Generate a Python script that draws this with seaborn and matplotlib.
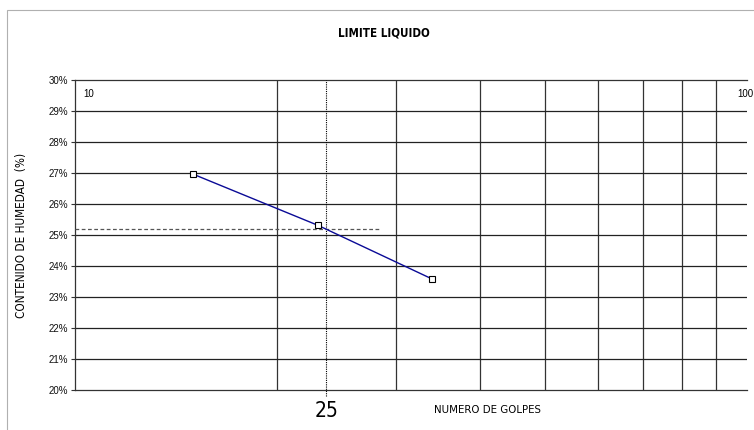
import matplotlib
matplotlib.use("Agg")
import matplotlib.pyplot as plt
import seaborn as sns
import pandas as pd
from matplotlib.patches import Rectangle

# data
golpes = [15.0, 23.0, 34.0]
humedad = [26.96, 25.31, 23.58]
limite_liquido = 25.18
dashed_end = 28.3
golpes_ref = 23.6
y_ticks = [20, 21, 22, 23, 24, 25, 26, 27, 28, 29, 30]
x_grid = [20, 30, 40, 50, 60, 70, 80, 90]

sns.set_theme(style="white")
narrow = ['Liberation Sans Narrow', 'DejaVu Sans']
regular = ['Liberation Sans', 'DejaVu Sans']
plt.rcParams['font.family'] = regular
plt.rcParams['text.color'] = 'black'
plt.rcParams['ytick.color'] = 'black'

fig = plt.figure(figsize=(7.54, 4.30), dpi=100)
ax = fig.add_axes([75/754, 1-390/430, 672/754, 310/430])

# outer chart border
fig.patches.append(Rectangle((7/754, -0.1), 1.2, (1+0.1) - 10/430, transform=fig.transFigure,
                             fill=False, edgecolor='#b0b0b0', linewidth=0.8))

df = pd.DataFrame({'golpes': golpes, 'humedad': humedad})
ax.set_xscale('log')
ax.set_xlim(10, 100)
ax.set_ylim(20, 30)

for v in x_grid:
    ax.axvline(v, color='#333333', linewidth=0.9, zorder=1)
for v in y_ticks[1:-1]:
    ax.axhline(v, color='#222222', linewidth=0.9, zorder=1)

sns.lineplot(data=df, x='golpes', y='humedad', ax=ax, color='#0a0a96', linewidth=1.0,
             marker='s', markersize=4, markerfacecolor='white', markeredgecolor='black',
             markeredgewidth=0.8, zorder=5)

ax.plot([10, dashed_end], [limite_liquido, limite_liquido], linestyle=(0, (3, 2)),
        color='#555555', linewidth=0.9, zorder=4)
ax.axvline(golpes_ref, ymin=-0.02, ymax=1, linestyle=(0, (1, 1)), color='black',
           linewidth=0.8, zorder=4, clip_on=False)

ax.set_yticks(y_ticks)
ax.set_yticklabels([f"{v}%" for v in y_ticks], fontsize=7, family=regular, color='#111111')
ax.tick_params(axis='y', length=3, width=0.8, color='#333333', direction='out', left=True, pad=2)
ax.set_xticks([])
ax.set_xticks([], minor=True)
ax.set_xlabel('')
ax.set_ylabel('')

for s in ['left', 'top', 'right', 'bottom']:
    ax.spines[s].set_color('#333333')
    ax.spines[s].set_linewidth(0.9)
ax.spines['right'].set_visible(False)

ax.text(10.3, 29.7, '10', fontsize=7, family=regular, ha='left', va='top')
ax.text(96.6, 29.7, '100', fontsize=7, family=regular, ha='left', va='top', clip_on=False)

fig.text(384/754, 1-33/430, 'LIMITE LIQUIDO', fontsize=8.3, fontweight='bold', family=narrow,
         fontstretch='condensed', ha='center', va='center', color='black')
fig.text(22/754, 1-235/430, 'CONTENIDO DE HUMEDAD  (%)', fontsize=8.5, family=narrow,
         fontstretch='condensed', rotation=90, ha='center', va='center', color='black')
fig.text(487/754, 1-410/430, 'NUMERO DE GOLPES', fontsize=8.2, family=narrow,
         fontstretch='condensed', ha='center', va='center', color='black')
fig.text(327/754, 1-411/430, '25', fontsize=15, family=narrow,
         fontstretch='condensed', ha='center', va='center', color='black')

fig.savefig('out.png', dpi=100)
